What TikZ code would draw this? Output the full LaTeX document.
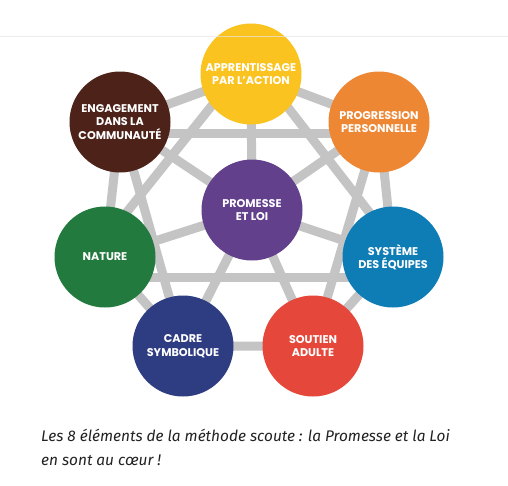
\documentclass[tikz,border=0pt]{standalone}
\usepackage{fontspec}
\setsansfont{Poppins}
\newfontfamily\capfont{Fira Sans}
\usetikzlibrary{backgrounds}
\definecolor{cAppr}{RGB}{250,195,32}
\definecolor{cProg}{RGB}{238,135,52}
\definecolor{cSys}{RGB}{14,124,181}
\definecolor{cSout}{RGB}{229,72,58}
\definecolor{cCadre}{RGB}{46,60,130}
\definecolor{cNat}{RGB}{35,122,62}
\definecolor{cEng}{RGB}{76,34,25}
\definecolor{cProm}{RGB}{98,64,140}
\definecolor{linkgray}{RGB}{196,196,196}
\definecolor{rulegray}{RGB}{228,228,228}
\definecolor{captext}{RGB}{34,34,34}
\begin{document}
\begin{tikzpicture}[x=1pt,y=-1pt,
  circ/.style={circle, minimum size=101pt, inner sep=0pt, align=center, text=white,
    font=\sffamily\bfseries\fontsize{11.2}{13.6}\selectfont},
  link/.style={line width=9pt, draw=linkgray},
  captxt/.style={anchor=base west, inner sep=0pt, text=captext,
    font=\capfont\itshape\fontsize{15.4}{24}\selectfont}]
\useasboundingbox (0,0) rectangle (508,485);

\node[circ, fill=cAppr]  (appr)  at (251,74)  {APPRENTISSAGE\\PAR L'ACTION};
\node[circ, fill=cProg]  (prog)  at (379,122) {PROGRESSION\\PERSONNELLE};
\node[circ, fill=cSys]   (sys)   at (393,257) {SYSTÈME\\DES ÉQUIPES};
\node[circ, fill=cSout]  (sout)  at (313,346) {SOUTIEN\\ADULTE};
\node[circ, fill=cCadre] (cadre) at (183,346) {CADRE\\SYMBOLIQUE};
\node[circ, fill=cNat]   (nat)   at (105,257) {NATURE};
\node[circ, fill=cEng]   (eng)   at (120,122) {ENGAGEMENT\\DANS LA\\COMMUNAUTÉ};
\node[circ, fill=cProm]  (prom)  at (252,210) {PROMESSE\\ET LOI};

\begin{pgfonlayer}{background}
  \fill[white] (0,0) rectangle (508,485);
  % outer heptagon
  \draw[link] (appr.center) -- (prog.center) -- (sys.center) -- (sout.center)
     -- (cadre.center) -- (nat.center) -- (eng.center) -- cycle;
  % spokes
  \foreach \n in {appr,prog,sys,sout,cadre,nat,eng}
    \draw[link] (prom.center) -- (\n.center);
  % chords
  \draw[link] ([yshift=-11pt]eng.center) -- ([yshift=-11pt]prog.center);
  \draw[link] ([yshift=-20pt]nat.center) -- ([yshift=-20pt]sys.center);
  \draw[link] ([xshift=-14pt]appr.center) -- ([xshift=-14pt]nat.center);
  \draw[link] ([xshift=11pt]appr.center) -- ([xshift=11pt]sys.center);
  \draw[link] (eng.center) -- (cadre.center);
  \draw[link] (prog.center) -- (sout.center);
\end{pgfonlayer}

\coordinate (rl) at (0,36);
\coordinate (rr) at (508,36);
\draw[rulegray, line width=0.8pt, opacity=0.7] (rl) -- (rr);

\node[captxt] (cap1) at (41,441) {Les 8 éléments de la méthode scoute : la Promesse et la Loi};
\node[captxt] (cap2) at (41,465) {en sont au cœur !};
\end{tikzpicture}
\end{document}
